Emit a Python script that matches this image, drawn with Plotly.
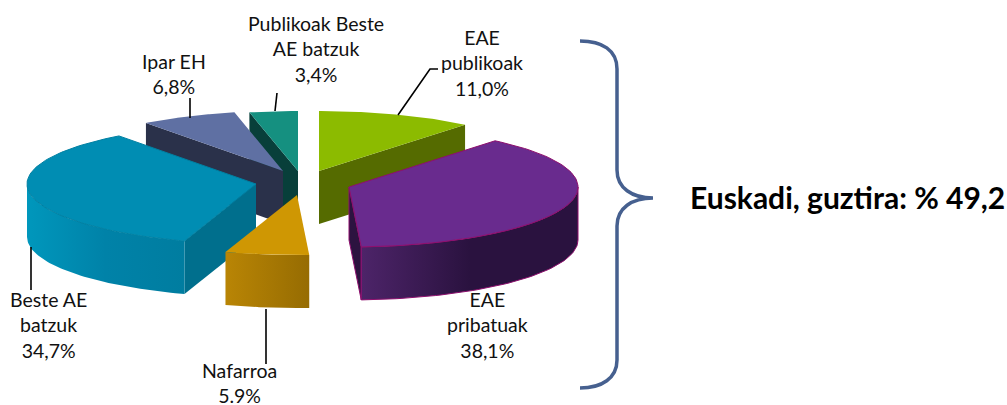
import numpy as np
import plotly.graph_objects as go

# Data
categories = ["EAE publikoak", "EAE pribatuak", "Nafarroa", "Beste AE batzuk", "Ipar EH", "Publikoak Beste AE batzuk"]
values = [11.0, 38.1, 5.9, 34.7, 6.8, 3.4]
labels = ["EAE<br>publikoak<br>11,0%", "EAE<br>pribatuak<br>38,1%", "Nafarroa<br>5.9%",
          "Beste AE<br>batzuk<br>34,7%", "Ipar EH<br>6,8%", "Publikoak Beste<br>AE batzuk<br>3,4%"]
summary_text = "Euskadi, guztira: % 49,2"

# Styling / layout
apex = [(319, 171), (349, 187), (297, 195), (256, 184), (283, 171), (298, 171)]
top_col = ["#8CBB00", "#692B8E", "#CF9703", "#008DB3", "#5F70A3", "#159080"]
radial_col = ["#556B00", "#2C1340", "#9A6F02", "#006F8D", "#2A314A", "#083F3A"]
wall_grad = [None, ["#4D2469", "#2A123F", "#2A123F"], ["#B98505", "#966C02"],
             ["#0097BC", "#0082A8", "#007DA0"], None, None]
edge_col = [None, "#8E0F6E", None, "#0080A2", None, None]
draw_order = [5, 4, 0, 3, 1, 2]
RX, RY, DEPTH = 229, 60, 53
label_pos = [(482, 63), (487, 325), (239, 383), (48, 325), (174, 74), (316, 49)]
leaders = [[(438, 69), (430, 69), (398, 115)], [], [(266, 309), (266, 364)],
           [(31, 247), (31, 290)], [(190, 98), (190, 118)], [(277, 93), (275, 111)]]

total = sum(values)
edges = np.cumsum([0] + values) / total * 2 * np.pi

fig = go.Figure()


def poly(xs, ys, color, gradient=None, line=None):
    kw = dict(fillcolor=color)
    if gradient:
        stops = np.linspace(0, 1, len(gradient))
        kw = dict(fillgradient=dict(type="horizontal", start=min(xs), stop=max(xs),
                                    colorscale=[[float(s), c] for s, c in zip(stops, gradient)]))
    fig.add_trace(go.Scatter(
        x=list(xs) + [xs[0]], y=list(ys) + [ys[0]], mode="lines", fill="toself",
        line=dict(color=line or "rgba(0,0,0,0)", width=1 if line else 0),
        hoverinfo="skip", showlegend=False, **kw))


for i in draw_order:
    cx, cy = apex[i]
    a0, a1 = edges[i], edges[i + 1]
    # radial faces that look towards the viewer
    for a, vis in ((a0, np.sin(a0) < 0 and a0 > 1e-6), (a1, np.sin(a1) > 0)):
        if vis:
            px, py = cx + RX * np.sin(a), cy - RY * np.cos(a)
            poly([cx, px, px, cx], [cy, py, py + DEPTH, cy + DEPTH], radial_col[i], line=edge_col[i] if i == 1 else None)
    # outer wall: visible arc on the front half
    lo, hi = max(a0, np.pi / 2), min(a1, 3 * np.pi / 2)
    if hi > lo:
        t = np.linspace(lo, hi, 60)
        ax, ay = cx + RX * np.sin(t), cy - RY * np.cos(t)
        poly(list(ax) + list(ax[::-1]), list(ay) + list((ay + DEPTH)[::-1]),
             radial_col[i], gradient=wall_grad[i], line=edge_col[i] if i == 1 else None)
    # top surface
    t = np.linspace(a0, a1, 80)
    poly([cx] + list(cx + RX * np.sin(t)), [cy] + list(cy - RY * np.cos(t)), top_col[i], line=edge_col[i])

# Leader lines
for pts in leaders:
    if pts:
        fig.add_trace(go.Scatter(x=[p[0] for p in pts], y=[p[1] for p in pts], mode="lines",
                                 line=dict(color="#000000", width=1.6), hoverinfo="skip", showlegend=False))

annotations = [dict(x=p[0], y=p[1], text=t, showarrow=False, xanchor="center", yanchor="middle", borderpad=0,
                    font=dict(family="Lato", size=19.5, color="#111111"))
               for t, p in zip(labels, label_pos)]
annotations.append(dict(x=688, y=197, text="<b>" + summary_text + "</b>", showarrow=False, xanchor="left",
                        yanchor="middle", font=dict(family="Lato", size=30, color="#000000")))

brace = ("M 580 41 C 602 41 617 50 617 69 L 617 170 C 617 188 632 198 653 198 "
         "C 632 198 617 208 617 226 L 617 360 C 617 378 602 388 580 388")

fig.update_layout(
    width=1007, height=405, margin=dict(l=0, r=0, t=0, b=0),
    paper_bgcolor="#FFFFFF", plot_bgcolor="#FFFFFF", showlegend=False,
    xaxis=dict(range=[0, 1007], visible=False, fixedrange=True),
    yaxis=dict(range=[405, 0], visible=False, fixedrange=True),
    annotations=annotations,
    shapes=[dict(type="path", path=brace, line=dict(color="#46608F", width=3.5), xref="x", yref="y")],
)
fig.write_html("out.html", config={"displayModeBar": False},
               post_script="document.body.style.margin='0';document.documentElement.style.overflow='hidden';")
